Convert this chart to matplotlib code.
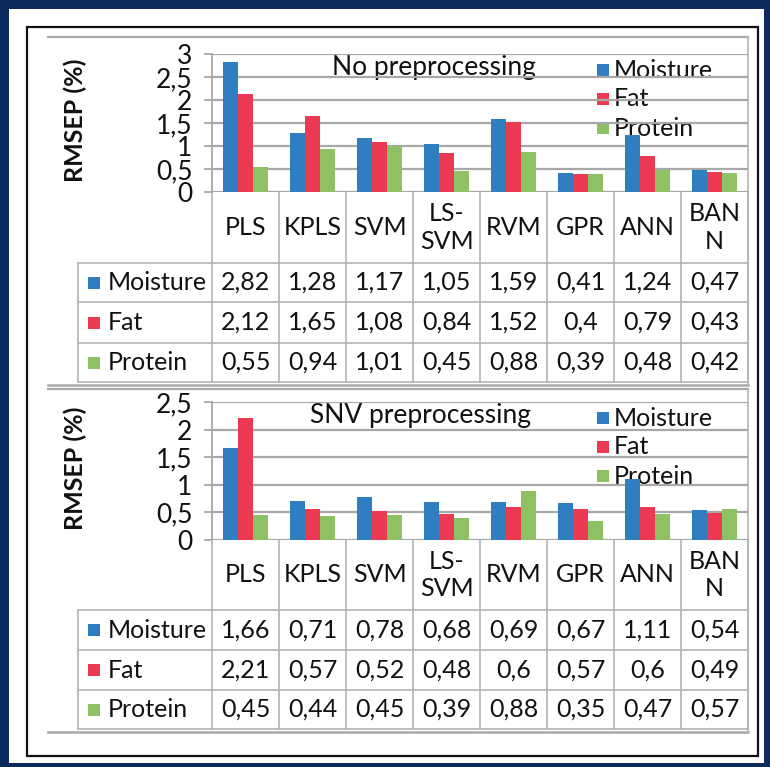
import matplotlib.pyplot as plt
import matplotlib.patches as patches
import numpy as np

plt.rcParams['font.family'] = ['Lato', 'DejaVu Sans']

# categories / series
methods = ['PLS', 'KPLS', 'SVM', 'LS-\nSVM', 'RVM', 'GPR', 'ANN', 'BAN\nN']
series = ['Moisture', 'Fat', 'Protein']
colors = ['#2f7ebf', '#ec3a52', '#8dc163']

# no preprocessing
raw_moisture = [2.82, 1.28, 1.17, 1.05, 1.59, 0.41, 1.24, 0.47]
raw_fat = [2.12, 1.65, 1.08, 0.84, 1.52, 0.4, 0.79, 0.43]
raw_protein = [0.55, 0.94, 1.01, 0.45, 0.88, 0.39, 0.48, 0.42]
raw_ticks = [0, 0.5, 1, 1.5, 2, 2.5, 3]

# SNV preprocessing
snv_moisture = [1.66, 0.71, 0.78, 0.68, 0.69, 0.67, 1.11, 0.54]
snv_fat = [2.21, 0.57, 0.52, 0.48, 0.6, 0.57, 0.6, 0.49]
snv_protein = [0.45, 0.44, 0.45, 0.39, 0.88, 0.35, 0.47, 0.57]
snv_ticks = [0, 0.5, 1, 1.5, 2, 2.5]

W, H = 770, 767
FS = 18
TXT = '#111111'
GRID = '#a8a8a8'
LINE = '#b4b4b4'


def fmt(v):
    return ('%g' % v).replace('.', ',')


fig = plt.figure(figsize=(W / 100, H / 100), dpi=100, facecolor='#0c2a5c')

# background overlay in pixel coords
bg = fig.add_axes([0, 0, 1, 1], zorder=0)
bg.set_xlim(0, W)
bg.set_ylim(H, 0)
bg.axis('off')
bg.add_patch(patches.Rectangle((9, 9), 755, 754, facecolor='white', edgecolor='none'))
bg.add_patch(patches.Rectangle((27, 27), 731, 729, facecolor='none', edgecolor='#111111', lw=1.6))

plot_left, plot_right, lab_left, chart_left = 212, 748, 78, 48
colw = (plot_right - plot_left) / len(methods)


def panel(top, zero, ymax, ticks, title, title_x, vals, rows, chart_top, chart_bottom, ylab_y, leg_y):
    ax = fig.add_axes([plot_left / W, 1 - zero / H, (plot_right - plot_left) / W, (zero - top) / H], zorder=2)
    ax.patch.set_alpha(0)
    x = np.arange(len(methods))
    bw = 0.225
    for i, v in enumerate(vals):
        ax.bar(x + (i - 1) * bw, v, bw, color=colors[i], zorder=3)
    ax.set_xlim(-0.5, len(methods) - 0.5)
    ax.set_ylim(0, ymax)
    ax.set_yticks(ticks)
    ax.set_yticklabels([fmt(t) for t in ticks])
    ax.tick_params(axis='y', length=6, width=1.3, color=GRID, pad=8, labelsize=FS + 1, labelcolor=TXT)
    ax.set_xticks([])
    ax.grid(axis='y', color=GRID, lw=1.6, zorder=0)
    ax.set_axisbelow(True)
    for s in ['top', 'right', 'bottom']:
        ax.spines[s].set_visible(False)
    ax.spines['left'].set_color(GRID)
    ax.spines['left'].set_linewidth(1.3)

    # chart title and legend
    bg.text(title_x, top + 14, title, fontsize=FS + 1, ha='center', va='center', color=TXT, zorder=5)
    for i, name in enumerate(series):
        yy = leg_y + i * 29
        bg.add_patch(patches.Rectangle((597, yy - 6), 12, 12, facecolor=colors[i], edgecolor='none', zorder=5))
        bg.text(614, yy, name, fontsize=FS, ha='left', va='center', color=TXT, zorder=5)
    bg.text(75, ylab_y, 'RMSEP (%)', fontsize=FS, fontweight='bold', rotation=90,
            ha='center', va='center', color=TXT)

    # outer chart border (grey)
    bg.plot([chart_left, plot_right], [chart_top, chart_top], color=GRID, lw=1.6)
    bg.plot([chart_left, plot_right], [chart_bottom, chart_bottom], color=GRID, lw=1.8)
    bg.plot([plot_right, plot_right], [chart_top, chart_bottom], color=LINE, lw=1.2)

    # data table
    hb = rows[0]
    for k in range(len(methods) + 1):
        xx = plot_left + k * colw
        bg.plot([xx, xx], [zero, rows[-1]], color=LINE, lw=1.2)
    bg.plot([lab_left, lab_left], [hb, rows[-1]], color=LINE, lw=1.2)
    for yy in rows:
        bg.plot([lab_left, plot_right], [yy, yy], color=LINE, lw=1.2)
    for k, m in enumerate(methods):
        bg.text(plot_left + (k + 0.5) * colw, (zero + hb) / 2, m, fontsize=FS, ha='center', va='center',
                linespacing=1.25, color=TXT)
    for i, name in enumerate(series):
        yc = (rows[i] + rows[i + 1]) / 2
        bg.add_patch(patches.Rectangle((88, yc - 6), 12, 12, facecolor=colors[i], edgecolor='none'))
        bg.text(108, yc, name, fontsize=FS, ha='left', va='center', color=TXT)
        for k, v in enumerate(vals[i]):
            bg.text(plot_left + (k + 0.5) * colw, yc, fmt(v), fontsize=FS, ha='center', va='center', color=TXT)


panel(54, 192, 3, raw_ticks, 'No preprocessing', 434,
      [raw_moisture, raw_fat, raw_protein], [263, 302, 343, 382], 37, 385, 120, 70)
panel(402, 540, 2.5, snv_ticks, 'SNV preprocessing', 420,
      [snv_moisture, snv_fat, snv_protein], [610, 650, 690, 729], 389, 732, 468, 418)

fig.savefig('out.png', dpi=100, facecolor=fig.get_facecolor())
